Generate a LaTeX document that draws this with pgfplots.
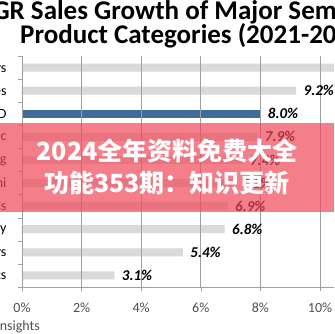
\documentclass[border=0pt]{standalone}
\usepackage{pgfplots}
\pgfplotsset{compat=1.18}
\usepackage{pgfplotstable}
\usepackage{fontspec}
\setmainfont{Carlito}
\newfontfamily\cjk{Noto Sans CJK SC}
\definecolor{bargray}{RGB}{218,218,218}
\definecolor{barblue}{RGB}{64,108,155}
\definecolor{ticktext}{RGB}{80,80,80}
\definecolor{gridgray}{RGB}{160,160,160}
\definecolor{bandpink}{RGB}{242,72,90}

\pgfplotstableread{
pos val
10 10.9
9 9.2
7 7.9
6 7.4
5 7.1
4 6.9
3 6.8
2 5.4
1 3.1
}\graydata
\pgfplotstableread{
pos val
8 8.0
}\bluedata

\begin{document}
\begin{tikzpicture}
\useasboundingbox (0,0) rectangle (334pt,334pt);
\clip (0,0) rectangle (334pt,334pt);
\fill[white] (0,0) rectangle (334pt,334pt);
% title
\node[anchor=base west, inner sep=0, font=\fontsize{27}{30}\selectfont\bfseries] at (-38pt,314pt) {CAGR Sales Growth of Major Semiconductor};
\node[anchor=base west, inner sep=0, font=\fontsize{27}{30}\selectfont\bfseries] at (20pt,290pt) {Product Categories (2021-2026F)};
\begin{axis}[
  at={(22pt,47pt)}, anchor=south west,
  scale only axis, width=327.8pt, height=231pt,
  xmin=0, xmax=11, ymin=0.5, ymax=10.5,
  xbar, bar width=8pt, bar shift=0pt,
  axis x line*=bottom, axis y line*=left,
  axis line style={gridgray, -},
  xtick={0,2,...,10},
  xticklabel={\pgfmathprintnumber{\tick}\%},
  ytick={1,...,10},
  yticklabels={Optoelectronics,Microprocessors,Memory,Total ICs,Total Semi,Analog,Logic,Total O-S-D,Discretes,Sensors/Actuators},
  minor ytick={0.5,1.5,...,10.5},
  major y tick style={draw=none},
  minor y tick style={gridgray},
  x tick style={gridgray},
  tick align=outside,
  major tick length=4pt, minor tick length=4pt,
  xmajorgrids, grid style={gridgray, line width=0.7pt},
  axis on top,
  /pgf/number format/assume math mode=true,
  xticklabel style={font=\fontsize{14}{16}\selectfont, text=ticktext, yshift=-8pt},
  yticklabel style={font=\fontsize{14}{16}\selectfont, text=black, xshift=-8pt},
  point meta=explicit,
  nodes near coords={\pgfmathprintnumber[fixed,fixed zerofill,precision=1]{\pgfplotspointmeta}\%},
  nodes near coords style={font=\fontsize{15}{17}\selectfont\bfseries\itshape, text=black, anchor=west, xshift=4pt},
]
\addplot[fill=bargray, draw=none] table[x=val, y=pos, meta=val] {\graydata};
\addplot[fill=barblue, draw=none] table[x=val, y=pos, meta=val] {\bluedata};
\end{axis}
% source
\node[anchor=base east, inner sep=0, font=\fontsize{14}{16}\selectfont, text=ticktext] at (40pt,4pt) {Source: IC Insights};
% overlay band
\fill[bandpink, opacity=0.7] (0,122pt) rectangle (334pt,211pt);
\node[font=\cjk\bfseries\fontsize{25}{28}\selectfont, text=white] at (167pt,183pt) {2024全年资料免费大全};
\node[font=\cjk\bfseries\fontsize{25}{28}\selectfont, text=white] at (167pt,151pt) {功能353期：知识更新};
\end{tikzpicture}
\end{document}
